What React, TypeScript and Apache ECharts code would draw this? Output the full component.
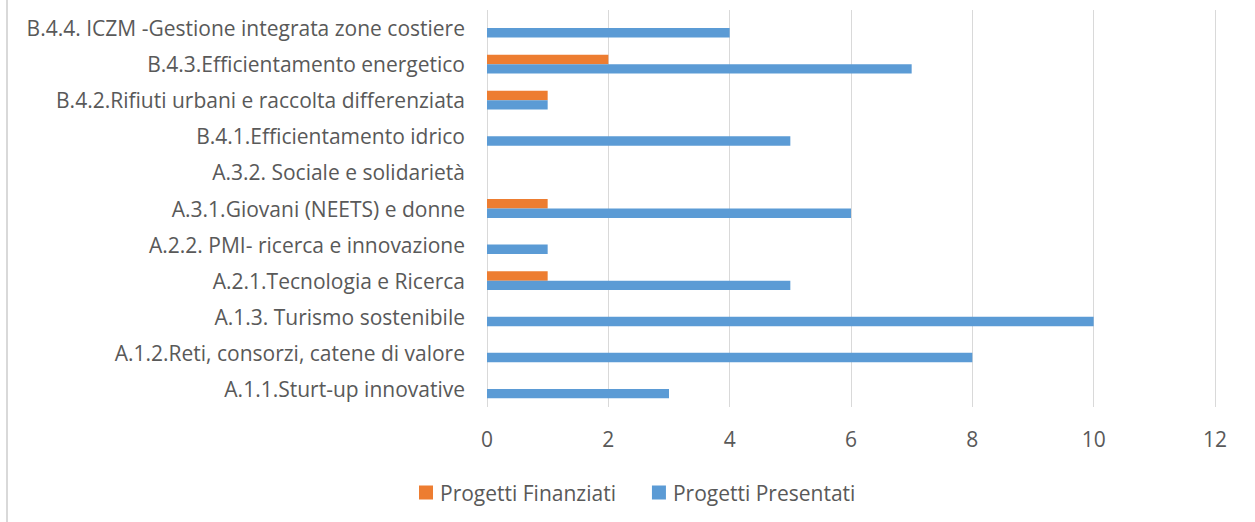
import React, { useEffect, useRef } from "react";
import * as echarts from "echarts";

const categories = [
  "A.1.1.Sturt-up innovative",
  "A.1.2.Reti, consorzi, catene di valore",
  "A.1.3. Turismo sostenibile",
  "A.2.1.Tecnologia e Ricerca",
  "A.2.2. PMI- ricerca e innovazione",
  "A.3.1.Giovani (NEETS) e donne",
  "A.3.2. Sociale e solidarietà",
  "B.4.1.Efficientamento idrico",
  "B.4.2.Rifiuti urbani e raccolta differenziata",
  "B.4.3.Efficientamento energetico",
  "B.4.4. ICZM -Gestione integrata zone costiere",
];

const finanziati = [0, 0, 0, 1, 0, 1, 0, 0, 1, 2, 0];
const presentati = [3, 8, 10, 5, 1, 6, 0, 5, 1, 7, 4];

const FONT = "Open Sans";
const TEXT = "#595959";
const FS = 21;

export default function App() {
  const ref = useRef<HTMLDivElement>(null);
  useEffect(() => {
    if (!ref.current) return;
    const chart = echarts.init(ref.current, undefined, { renderer: "svg" });
    chart.setOption({
      animation: false,
      backgroundColor: "#ffffff",
      textStyle: { fontFamily: FONT, color: TEXT },
      graphic: [
        {
          type: "line",
          shape: { x1: 7, y1: 0, x2: 7, y2: 522 },
          style: { stroke: "#d9d9d9", lineWidth: 2 },
        },
      ],
      legend: {
        top: 482,
        left: 419,
        padding: 0,
        itemWidth: 14,
        itemHeight: 14,
        itemGap: 36,
        icon: "rect",
        textStyle: { fontFamily: FONT, fontSize: FS, color: TEXT, padding: [0, 0, 0, 2] },
        data: ["Progetti Finanziati", "Progetti Presentati"],
      },
      grid: { left: 487, right: 40, top: 10, bottom: 115 },
      xAxis: {
        type: "value",
        min: 0,
        max: 12,
        interval: 2,
        axisLine: { show: false },
        axisTick: { show: false },
        axisLabel: { color: TEXT, fontFamily: FONT, fontSize: FS, margin: 21 },
        splitLine: { lineStyle: { color: "#d9d9d9", width: 1 } },
      },
      yAxis: {
        type: "category",
        data: categories,
        axisLine: { show: false },
        axisTick: { show: false },
        axisLabel: { color: TEXT, fontFamily: FONT, fontSize: FS, margin: 22 },
      },
      series: [
        {
          name: "Progetti Finanziati",
          type: "bar",
          data: finanziati,
          itemStyle: { color: "#ED7D31" },
          barGap: "0%",
          barCategoryGap: "48%",
        },
        {
          name: "Progetti Presentati",
          type: "bar",
          data: presentati,
          itemStyle: { color: "#5B9BD5" },
          barGap: "0%",
          barCategoryGap: "48%",
        },
      ],
    });
    return () => chart.dispose();
  }, []);
  return (
    <div
      ref={ref}
      style={{ position: "fixed", left: 0, top: 0, width: 1255, height: 522 }}
    />
  );
}
